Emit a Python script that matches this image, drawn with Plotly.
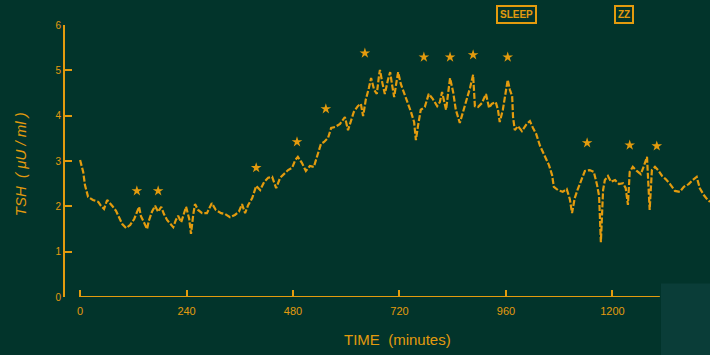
import plotly.graph_objects as go

# Serum TSH sampled over ~24 h (minutes from start, μU/ml)
time_min = [0, 7, 11, 18, 29, 41, 47, 54, 61, 68, 74, 81, 88, 95, 104, 113, 122, 128, 133, 137,
            144, 151, 155, 162, 169, 176, 183, 189, 196, 203, 210, 216, 221, 228, 234, 239, 246, 250,
            255, 259, 266, 275, 286, 297, 306, 318, 327, 338, 349, 358, 365, 372, 379, 388, 397, 406,
            415, 424, 433, 442, 451, 460, 469, 478, 485, 491, 500, 509, 518, 527, 536, 543, 550, 559,
            566, 575, 586, 597, 604, 611, 617, 626, 633, 638, 644, 651, 656, 663, 669, 674, 676, 681,
            687, 694, 699, 703, 708, 714, 717, 723, 730, 739, 746, 753, 757, 762, 768, 777, 786, 795,
            805, 811, 816, 825, 829, 834, 841, 847, 856, 865, 872, 879, 886, 890, 897, 906, 915, 922,
            928, 937, 942, 946, 953, 958, 964, 969, 974, 976, 980, 987, 996, 1007, 1014, 1021, 1028,
            1037, 1048, 1057, 1064, 1068, 1077, 1088, 1097, 1104, 1109, 1115, 1122, 1131, 1138, 1149,
            1158, 1165, 1170, 1174, 1179, 1183, 1190, 1197, 1206, 1215, 1224, 1230, 1235, 1239, 1246,
            1255, 1264, 1271, 1278, 1280, 1284, 1289, 1296, 1303, 1312, 1320, 1330, 1341, 1352, 1361,
            1372, 1381, 1390, 1397, 1406, 1415, 1420]
tsh = [3.02, 2.76, 2.47, 2.21, 2.14, 2.10, 2.01, 1.94, 2.14, 2.07, 1.99, 1.90, 1.74, 1.61, 1.52, 1.59,
       1.72, 1.85, 1.99, 1.79, 1.65, 1.50, 1.68, 1.88, 2.01, 1.88, 1.99, 1.83, 1.70, 1.61, 1.54, 1.70,
       1.79, 1.65, 1.83, 1.99, 1.72, 1.39, 1.81, 2.05, 1.92, 1.85, 1.85, 2.07, 1.92, 1.85, 1.83, 1.76,
       1.81, 1.88, 2.05, 1.85, 2.03, 2.18, 2.45, 2.36, 2.54, 2.63, 2.65, 2.40, 2.63, 2.71, 2.80, 2.85,
       3.02, 3.09, 2.96, 2.78, 2.89, 2.87, 3.15, 3.38, 3.42, 3.51, 3.73, 3.75, 3.82, 3.97, 3.68, 3.90,
       4.08, 4.21, 4.26, 3.99, 4.35, 4.61, 4.83, 4.57, 4.48, 4.90, 5.01, 4.74, 4.48, 4.79, 4.96, 4.70,
       4.41, 4.79, 4.96, 4.70, 4.52, 4.26, 4.08, 3.86, 3.46, 3.79, 4.13, 4.19, 4.48, 4.37, 4.21, 4.30,
       4.52, 4.13, 4.46, 4.83, 4.52, 4.13, 3.84, 4.13, 4.35, 4.61, 4.90, 4.21, 4.19, 4.28, 4.48, 4.17,
       4.26, 4.30, 4.13, 3.86, 4.13, 4.48, 4.79, 4.57, 4.43, 3.97, 3.68, 3.77, 3.66, 3.82, 3.88, 3.73,
       3.60, 3.33, 3.11, 2.91, 2.69, 2.43, 2.36, 2.32, 2.38, 2.16, 1.85, 2.18, 2.38, 2.63, 2.78, 2.80,
       2.76, 2.49, 2.23, 1.21, 2.36, 2.58, 2.67, 2.54, 2.58, 2.49, 2.51, 2.40, 2.03, 2.76, 2.87, 2.78,
       2.71, 2.89, 3.09, 2.69, 1.92, 2.80, 2.87, 2.80, 2.67, 2.60, 2.49, 2.34, 2.32, 2.43, 2.49, 2.58,
       2.65, 2.40, 2.25, 2.14, 2.10]

# Significant secretory pulses (asterisks)
pulse_time = [128, 176, 397, 489, 554, 642, 775, 834, 886, 964, 1143, 1239, 1300]
pulse_mark = [2.34, 2.34, 2.85, 3.42, 4.15, 5.38, 5.29, 5.29, 5.34, 5.29, 3.40, 3.35, 3.33]

x_ticks = [0, 240, 480, 720, 960, 1200]
x_tick_text = ["0", "240", "480", "720", "960", "1200"]
y_ticks = [0, 1, 2, 3, 4, 5, 6]
x_axis_end = 1307

BG = "#02342B"
ORANGE = "#E39B0E"
FONT = "Liberation Sans"

fig = go.Figure()
fig.add_trace(go.Scatter(
    x=time_min, y=tsh, mode="lines",
    line=dict(color=ORANGE, width=2.2, dash="6px,2px"),
    cliponaxis=False, showlegend=False, hoverinfo="x+y"))
fig.add_trace(go.Scatter(
    x=pulse_time, y=pulse_mark, mode="markers",
    marker=dict(symbol="star", size=8, color=ORANGE),
    cliponaxis=False, showlegend=False))

# Baseline drawn only across the sampled time span
fig.add_shape(type="line", xref="x", yref="y", x0=0, x1=x_axis_end, y0=0, y1=0,
              line=dict(color=ORANGE, width=2))
# Worn lower-right corner of the slide
fig.add_shape(type="rect", xref="paper", yref="paper", x0=0.924, x1=1.0, y0=-0.22, y1=0.05,
              fillcolor="#0A3D38", line=dict(width=0), layer="below")

fig.update_layout(
    width=710, height=355,
    margin=dict(l=65, r=0, t=25, b=58),
    paper_bgcolor=BG, plot_bgcolor=BG,
    font=dict(family=FONT, color=ORANGE),
    xaxis=dict(range=[-34, 1420], tickvals=x_ticks, ticktext=x_tick_text,
               ticks="inside", ticklen=7, tickwidth=2, tickcolor=ORANGE,
               showgrid=False, zeroline=False, showline=False, ticklabelstandoff=6,
               tickfont=dict(size=11, color=ORANGE, family=FONT)),
    yaxis=dict(range=[0, 6], tickvals=y_ticks,
               ticks="inside", ticklen=7, tickwidth=2, tickcolor=ORANGE,
               showgrid=False, zeroline=False, showline=True, linecolor=ORANGE, linewidth=2,
               tickfont=dict(size=10, color=ORANGE, family=FONT)),
    annotations=[
        dict(text="TIME  (minutes)", xref="paper", yref="paper", x=0.516, y=-0.155,
             xanchor="center", yanchor="middle", showarrow=False,
             font=dict(size=15, color=ORANGE, family=FONT)),
        dict(text="<i>TSH  ( μU / ml )</i>", xref="paper", yref="paper", x=-0.069, y=0.49,
             xanchor="center", yanchor="middle", textangle=-90, showarrow=False,
             font=dict(size=15, color=ORANGE, family=FONT)),
        dict(text="<b>SLEEP</b>", xref="paper", yref="paper", x=0.70, y=1.04,
             xanchor="center", yanchor="middle", showarrow=False,
             bordercolor=ORANGE, borderwidth=2, borderpad=2,
             font=dict(size=10, color=ORANGE, family=FONT)),
        dict(text="<b>ZZ</b>", xref="paper", yref="paper", x=0.867, y=1.04,
             xanchor="center", yanchor="middle", showarrow=False,
             bordercolor=ORANGE, borderwidth=2, borderpad=2,
             font=dict(size=10, color=ORANGE, family=FONT)),
    ],
)

fig.write_html("out.html")
